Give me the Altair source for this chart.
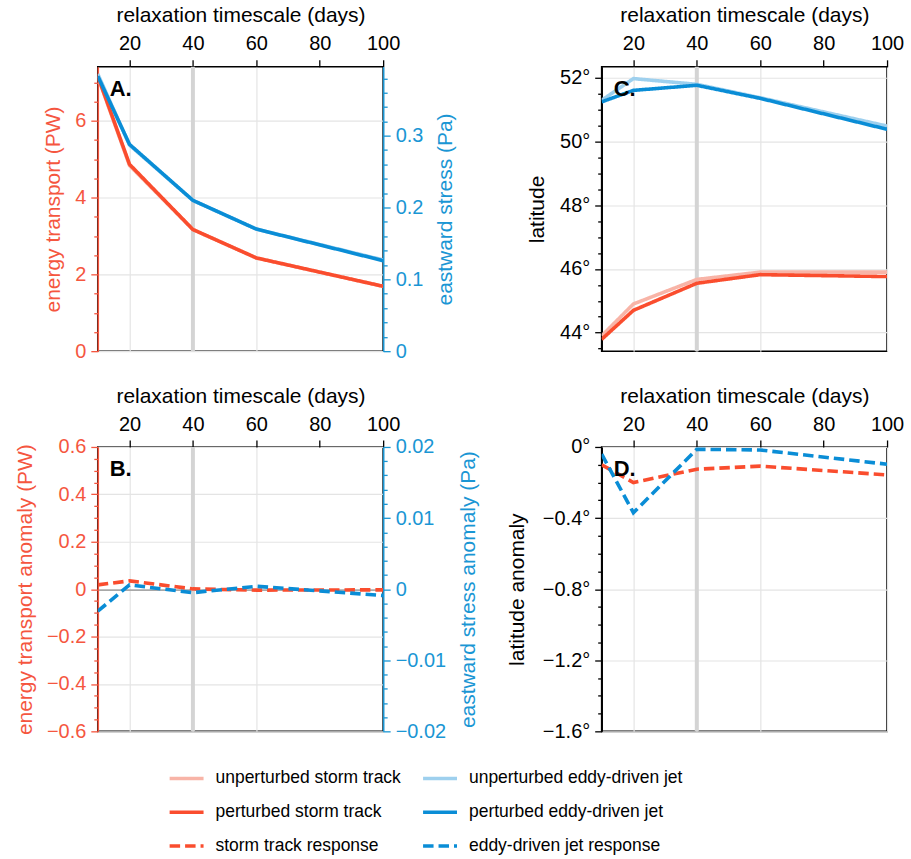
import altair as alt
import pandas as pd

FONT = "Liberation Sans"
RED = "#FA4D2E"
RED_LIGHT = "#F8B4A7"
BLUE = "#0A8DD6"
BLUE_LIGHT = "#9ED0EE"
RED_TXT = "#F5563F"
BLUE_TXT = "#1A96D4"

# ---------------- data ----------------
days = [10, 20, 40, 60, 100]
control_day = [40]
x_ticks = [20, 40, 60, 80, 100]

# legend order (filled column by column)
series_names = ["unperturbed storm track", "perturbed storm track", "storm track response",
                "unperturbed eddy-driven jet", "perturbed eddy-driven jet",
                "eddy-driven jet response"]
series_colors = [RED_LIGHT, RED, RED, BLUE_LIGHT, BLUE, BLUE]
series_dash = [[1, 0], [1, 0], [10.5, 5], [1, 0], [1, 0], [10.5, 5]]
ST_U, ST_P, ST_R, JT_U, JT_P, JT_R = series_names

# panel A
energy_unperturbed = [7.15, 4.84, 3.17, 2.43, 1.69]
energy_perturbed = [7.17, 4.87, 3.17, 2.43, 1.69]
stress_unperturbed = [0.386, 0.287, 0.210, 0.170, 0.127]
stress_perturbed = [0.383, 0.288, 0.210, 0.170, 0.126]
# panel B
energy_response = [0.018, 0.035, 0.001, -0.004, -0.003]
stress_response = [-0.0031, 0.0006, -0.0005, 0.0004, -0.0009]
# panel C
lat_storm_unperturbed = [43.90, 44.90, 45.67, 45.90, 45.90]
lat_storm_perturbed = [43.79, 44.70, 45.55, 45.82, 45.76]
lat_jet_unperturbed = [51.29, 51.97, 51.79, 51.37, 50.48]
lat_jet_perturbed = [51.24, 51.60, 51.76, 51.35, 50.38]
# panel D
lat_storm_response = [-0.10, -0.20, -0.125, -0.108, -0.157]
lat_jet_response = [-0.04, -0.37, -0.013, -0.017, -0.097]

W, H = 286, 285


def frame(values, name):
    return pd.DataFrame({"days": days, "value": values, "series": name})


def ticks(lo, hi, step):
    n = int(round((hi - lo) / step))
    return [round(lo + i * step, 6) for i in range(n + 1)]


def is_major(step):
    return f"abs(datum.value/{step} - round(datum.value/{step})) < 0.001"


def y_axis(lo, hi, minor, major, fmt, color, title, orient="left", grid=True,
           zero_line=False, title_pad=8):
    maj = is_major(major)
    kw = dict(
        orient=orient,
        values=ticks(lo, hi, minor),
        labelExpr=f"{maj} ? ({fmt}) : ''",
        tickSize={"condition": {"test": maj, "value": 7}, "value": 4},
        tickColor=color, domainColor=color, labelColor=color, titleColor=color,
        domainWidth=1.6, tickWidth=1.3,
        title=title, grid=grid,
        labelPadding=5, titlePadding=title_pad,
    )
    if grid:
        kw["gridOpacity"] = {"condition": {"test": maj, "value": 1}, "value": 0}
        if zero_line:
            kw["gridColor"] = {"condition": {"test": "datum.value == 0", "value": "#a8a8a8"},
                               "value": "#e4e4e4"}
            kw["gridWidth"] = {"condition": {"test": "datum.value == 0", "value": 1.6},
                               "value": 1.2}
    if orient == "right":
        kw["titleAngle"] = 270
        kw["titleBaseline"] = "top"
    return alt.Axis(**kw)


top_axis = alt.Axis(
    orient="top", values=x_ticks, title="relaxation timescale (days)",
    tickSize=7, tickColor="black", tickWidth=1.3, domain=False,
    labelPadding=6, titlePadding=8,
    grid=True, gridColor="#e4e4e4", gridWidth=1.2,
    gridOpacity={"condition": {"test": "datum.value == 80", "value": 0}, "value": 1},
)


def x_enc():
    return alt.X("days:Q", scale=alt.Scale(domain=[10, 100], nice=False, zero=False),
                 axis=top_axis)


legend = alt.Legend(
    orient="none", legendX=70, legendY=694, columns=2, title=None,
    symbolType="stroke", symbolStrokeWidth=3.5, symbolSize=1156,
    labelFontSize=17.5, labelFont=FONT, labelColor="black", labelLimit=0,
    labelOffset=10, rowPadding=6, columnPadding=15, symbolOffset=0,
)
color_enc = alt.Color("series:N", scale=alt.Scale(domain=series_names, range=series_colors),
                      legend=legend)
dash_enc = alt.StrokeDash("series:N", scale=alt.Scale(domain=series_names, range=series_dash),
                          legend=legend)


def line(values, name, yscale, yaxis):
    return alt.Chart(frame(values, name)).mark_line(strokeWidth=3.6, clip=True).encode(
        x=x_enc(),
        y=alt.Y("value:Q", scale=yscale, axis=yaxis),
        color=color_enc,
        strokeDash=dash_enc,
    )


def control_rule():
    return alt.Chart(pd.DataFrame({"days": control_day})).mark_rule(
        color="#d4d4d4", strokeWidth=4).encode(x=x_enc())


def panel_label(txt):
    return alt.Chart(pd.DataFrame({"label": [txt]})).mark_text(
        font=FONT, fontSize=22, fontWeight="bold", align="left", baseline="alphabetic",
        color="black").encode(text="label:N", x=alt.value(12), y=alt.value(29))


# ---------------- panel A ----------------
sA_l = alt.Scale(domain=[0, 7.41], nice=False, zero=False)
sA_r = alt.Scale(domain=[0, 0.396], nice=False, zero=False)
axA_l = y_axis(0, 7.0, 0.5, 2, "format(datum.value, 'd')", RED_TXT,
               "energy transport (PW)", title_pad=11)
axA_r = y_axis(0, 0.38, 0.02, 0.1, "datum.value == 0 ? '0' : format(datum.value, '.1f')",
               BLUE_TXT, "eastward stress (Pa)", orient="right", grid=False, title_pad=12)
A = alt.layer(
    control_rule(),
    alt.layer(line(energy_unperturbed, ST_U, sA_l, axA_l),
              line(energy_perturbed, ST_P, sA_l, axA_l)),
    alt.layer(line(stress_unperturbed, JT_U, sA_r, axA_r),
              line(stress_perturbed, JT_P, sA_r, axA_r)),
    panel_label("A."),
).resolve_scale(y="independent").properties(width=W, height=H)

# ---------------- panel B ----------------
sB_l = alt.Scale(domain=[-0.6, 0.6], nice=False, zero=False)
sB_r = alt.Scale(domain=[-0.02, 0.02], nice=False, zero=False)
axB_l = y_axis(-0.6, 0.6, 0.05, 0.2, "datum.value == 0 ? '0' : format(datum.value, '.1f')",
               RED_TXT, "energy transport anomaly (PW)", zero_line=True, title_pad=11)
axB_r = y_axis(-0.02, 0.02, 0.002, 0.01, "datum.value == 0 ? '0' : format(datum.value, '.2f')",
               BLUE_TXT, "eastward stress anomaly (Pa)", orient="right", grid=False,
               title_pad=12)
B = alt.layer(
    control_rule(),
    line(energy_response, ST_R, sB_l, axB_l),
    line(stress_response, JT_R, sB_r, axB_r),
    panel_label("B."),
).resolve_scale(y="independent").properties(width=W, height=H)

# ---------------- panel C ----------------
sC = alt.Scale(domain=[43.42, 52.34], nice=False, zero=False)
axC = y_axis(43.5, 52, 0.5, 2, "format(datum.value, 'd') + '°'", "black", "latitude",
             title_pad=12)
C = alt.layer(
    control_rule(),
    line(lat_storm_unperturbed, ST_U, sC, axC),
    line(lat_jet_unperturbed, JT_U, sC, axC),
    line(lat_storm_perturbed, ST_P, sC, axC),
    line(lat_jet_perturbed, JT_P, sC, axC),
    panel_label("C."),
).properties(width=W, height=H)

# ---------------- panel D ----------------
sD = alt.Scale(domain=[-1.6, 0], nice=False, zero=False)
axD = y_axis(-1.6, 0, 0.1, 0.4, "datum.value == 0 ? '0°' : format(datum.value, '.1f') + '°'",
             "black", "latitude anomaly", title_pad=15)
D = alt.layer(
    control_rule(),
    line(lat_storm_response, ST_R, sD, axD),
    line(lat_jet_response, JT_R, sD, axD),
    panel_label("D."),
).properties(width=W, height=H)

chart = alt.concat(A, C, B, D, columns=2, spacing={"row": 96, "column": 219},
                   bounds="flush").properties(
    padding={"left": 13, "top": 3, "right": 6, "bottom": 5}
).configure(font=FONT).configure_view(
    stroke="black", strokeWidth=1.6
).configure_axis(
    labelFont=FONT, titleFont=FONT, labelFontSize=20, titleFontSize=21,
    titleFontWeight="normal", labelOverlap=False, labelFlush=False,
    labelColor="black", titleColor="black", tickColor="black", domainColor="black",
    gridColor="#e4e4e4", gridWidth=1.2,
)

chart.save("out.html", embed_options={"renderer": "svg", "actions": False})
